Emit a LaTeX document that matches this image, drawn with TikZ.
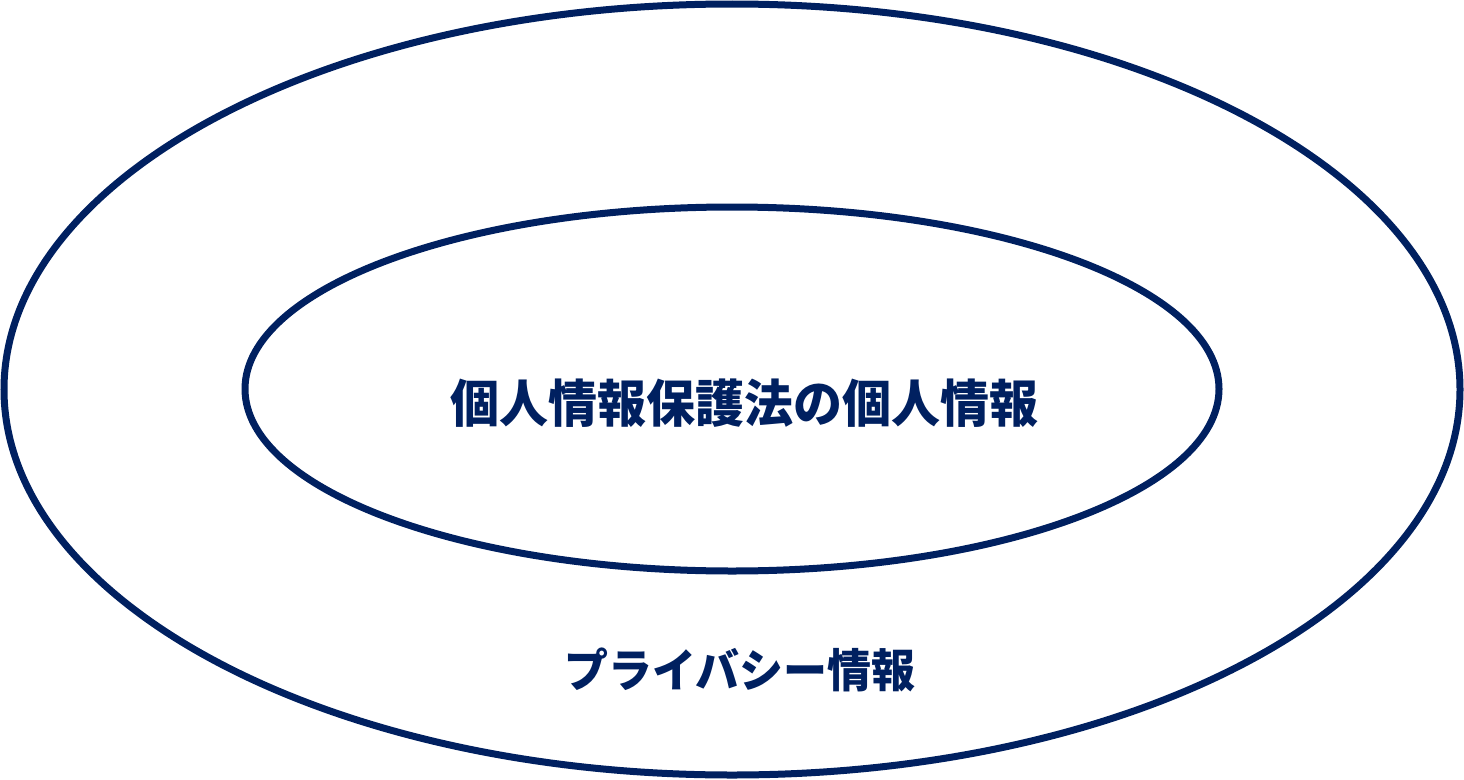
\documentclass[tikz,border=0pt]{standalone}
\usepackage{fontspec}
\newfontfamily\cjk{Noto Sans CJK JP}[BoldFont={* Black}]
\definecolor{navy}{HTML}{002060}
\begin{document}
\begin{tikzpicture}[x=1pt,y=-1pt,
  lbl/.style={text=navy,inner sep=0pt}]
\useasboundingbox (0,0) rectangle (1464,779);
\draw[draw=navy,line width=7pt] (732,389.5) ellipse [x radius=728, y radius=385.5];
\draw[draw=navy,line width=7pt] (732,389) ellipse [x radius=487, y radius=182];
\node[lbl,font=\cjk\bfseries\fontsize{49}{49}\selectfont,yscale=1.04] (inner) at (744,403) {個人情報保護法の個人情報};
\node[lbl,font=\cjk\bfseries\fontsize{44}{44}\selectfont,yscale=1.04] (outer) at (740,670) {プライバシー情報};
\end{tikzpicture}
\end{document}
